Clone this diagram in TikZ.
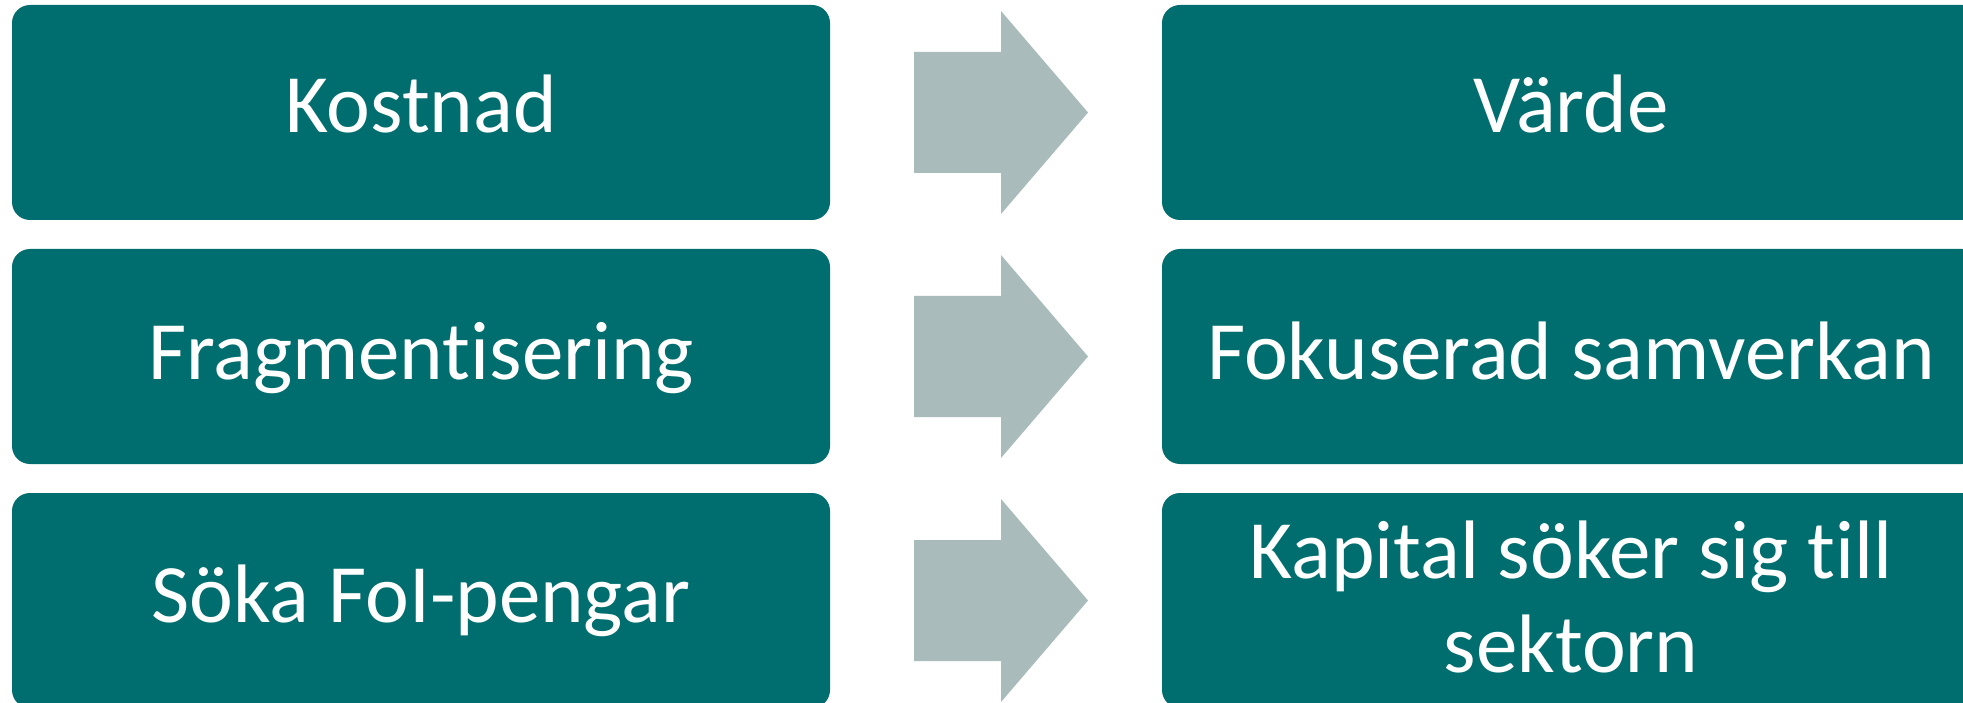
\documentclass[tikz,border=0pt]{standalone}
\usepackage{fontspec}
\setmainfont{Carlito}[Ligatures={NoCommon,NoRare,NoContextual},Contextuals={NoAlternate}]
\definecolor{teal1}{RGB}{0,110,110}
\definecolor{arrowgray}{RGB}{170,187,187}
\tikzset{
  box/.style={fill=teal1, draw=none, rounded corners=18pt, minimum width=818pt, minimum height=215pt, inner sep=0pt, outer sep=0pt},
  txt/.style={text=white, font=\fontsize{83}{94}\selectfont, inner sep=0pt, anchor=base},
  blockarrow/.style={fill=arrowgray, draw=none}
}
\begin{document}
\begin{tikzpicture}[x=1pt, y=-1pt]
\useasboundingbox (0,0) rectangle (1963,703);
\clip (0,0) rectangle (1963,703);
\fill[white] (0,0) rectangle (1963,703);
% left boxes
\node[box] (L1) at (421,112.5) {};
\node[box] (L2) at (421,356.5) {};
\node[box] (L3) at (421,600.5) {};
% right boxes
\node[box] (R1) at (1571,112.5) {};
\node[box] (R2) at (1571,356.5) {};
\node[box] (R3) at (1571,600.5) {};
% texts
\node[txt] (tL1) at (421,133) {Kostnad};
\node[txt] (tL2) at (421,379) {Fragmentisering};
\node[txt] (tL3) at (421,622) {Söka FoI-pengar};
\node[txt] (tR1) at (1571,133) {Värde};
\node[txt] (tR2) at (1571,379) {Fokuserad samverkan};
\node[txt] (tR3a) at (1571,578) {Kapital söker sig till};
\node[txt] (tR3b) at (1571,672) {sektorn};
% block arrows
\foreach \dy in {0,244,488}{
  \fill[blockarrow] (914,52+\dy) -- (1001,52+\dy) -- (1001,11+\dy) -- (1088,112.5+\dy)
    -- (1001,214+\dy) -- (1001,173+\dy) -- (914,173+\dy) -- cycle;
}
\end{tikzpicture}
\end{document}
